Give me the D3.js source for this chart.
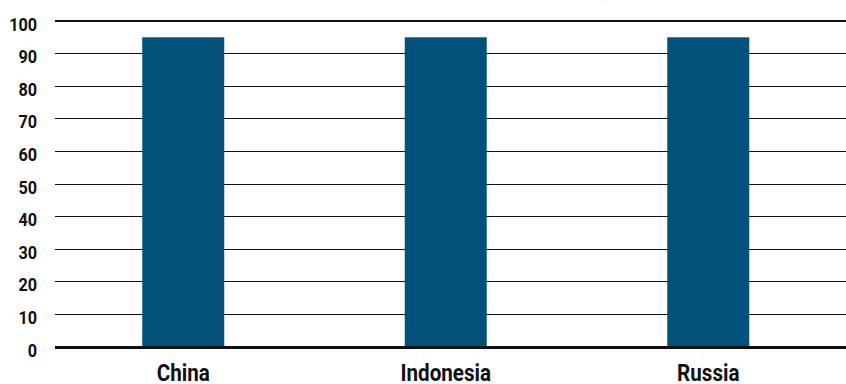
<!DOCTYPE html>
<html>
<head>
<meta charset="utf-8">
<script src="https://cdn.jsdelivr.net/npm/d3@7"></script>
<style>
html,body{margin:0;padding:0;background:#fff;}
svg{display:block;}
text{font-family:"Roboto","DejaVu Sans",sans-serif;font-weight:bold;fill:#111;}
</style>
</head>
<body>
<svg id="chart" width="846" height="384"></svg>
<script>
const categories = ["China", "Indonesia", "Russia"];
const values = [95, 95, 95];
const yTicks = [0, 10, 20, 30, 40, 50, 60, 70, 80, 90, 100];
const title = "Share of respondents (percentage)";

const svg = d3.select("#chart");
const plotLeft = 55, plotRight = 846;
const y = d3.scaleLinear().domain([0, 100]).range([347, 21]);
const x = d3.scaleBand().domain(categories).range([52, 839.5])
  .paddingInner(0.6876).paddingOuter(0.3438);

// title (cut off by the top edge, as in the reference)
svg.append("text").attr("x", 493).attr("y", -2.6).attr("text-anchor", "middle")
  .style("font-size", "15px").style("font-weight", "normal").style("fill", "#777").text(title);

// gridlines
svg.append("g").selectAll("line").data(yTicks).join("line")
  .attr("x1", plotLeft).attr("x2", plotRight)
  .attr("y1", d => y(d)).attr("y2", d => y(d))
  .attr("stroke", "#111")
  .attr("stroke-width", d => d === 0 ? 3 : (d === 100 ? 2 : 1))
  .attr("shape-rendering", "crispEdges");

// bars
svg.append("g").selectAll("rect").data(categories).join("rect")
  .attr("x", d => x(d)).attr("width", x.bandwidth())
  .attr("y", (d, i) => y(values[i]))
  .attr("height", (d, i) => y(0) - y(values[i]))
  .attr("fill", "#02517a");

// baseline on top
svg.append("line").attr("x1", plotLeft).attr("x2", plotRight)
  .attr("y1", y(0)).attr("y2", y(0)).attr("stroke", "#111").attr("stroke-width", 3)
  .attr("shape-rendering", "crispEdges");

// y tick labels
svg.append("g").selectAll("text").data(yTicks).join("text")
  .attr("transform", d => `translate(37,${y(d) + 9.5}) scale(0.9,1)`)
  .attr("text-anchor", "end").style("font-size", "18px").text(d => d);

// x labels
svg.append("g").selectAll("text").data(categories).join("text")
  .attr("transform", d => `translate(${x(d) + x.bandwidth() / 2},381) scale(0.86,1)`)
  .attr("text-anchor", "middle").style("font-size", "24px").text(d => d);
</script>
</body>
</html>
